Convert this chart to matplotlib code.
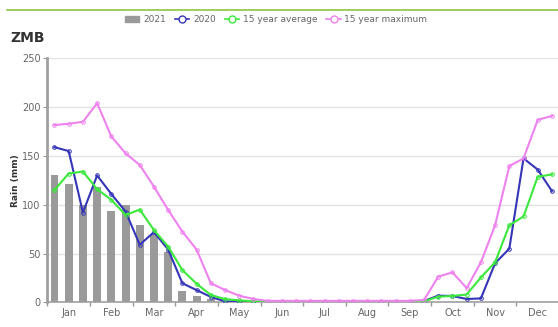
import numpy as np
import matplotlib.pyplot as plt
from matplotlib.lines import Line2D
from matplotlib.patches import Patch

months = ['Jan', 'Feb', 'Mar', 'Apr', 'May', 'Jun', 'Jul', 'Aug', 'Sep', 'Oct', 'Nov', 'Dec']

# dekadal rainfall (mm), 36 dekads
rain_2021 = [130, 121, 100, 118, 94, 100, 79, 70, 52, 12, 6.5, 3]
rain_2020 = [159, 155, 92, 130, 111, 93, 59, 72, 54, 19.5, 12.5, 5.5,
             1, 0.5, 0.5, 0.5, 0.5, 0.5, 0.5, 0.5, 0.5, 0.5, 0.5, 0.5,
             0.5, 0.5, 1.4, 6.8, 6.5, 3.4, 4, 40, 55, 147.5, 136, 114]
avg_15yr = [115, 132, 134, 116, 105, 89.5, 95, 74, 57, 33, 19, 7.5,
            3.3, 2, 1, 0.8, 0.5, 0.5, 0.5, 0.5, 0.5, 0.5, 0.5, 0.5,
            0.5, 0.5, 1, 5.8, 6.5, 8, 25.5, 41, 79, 88, 128.7, 131]
max_15yr = [181.7, 183, 185, 204, 170, 152.7, 140.7, 118.5, 94.6, 72.4, 54, 19.5,
            12.6, 6.8, 3.4, 1.5, 1.5, 1.5, 1.5, 1.5, 1.5, 1.5, 1.5, 1.5,
            1.5, 1.5, 2.4, 26.3, 30.7, 14.5, 41, 79, 139.6, 147.5, 187, 191]

fig = plt.figure(figsize=(5.58, 3.27), dpi=100)
ax = fig.add_axes([0.0849, 0.0755, 0.917, 0.746])

x = np.arange(36)
ax.bar(x[:len(rain_2021)], rain_2021, width=0.56, color='#9a9a9a', zorder=2)
ax.plot(x, rain_2020, color='#3535b8', lw=1.5, marker='o', ms=2.6, mfc='none', mew=0.7, zorder=3)
ax.plot(x, avg_15yr, color='#3be83b', lw=1.5, marker='o', ms=2.6, mfc='none', mew=0.7, zorder=3)
ax.plot(x, max_15yr, color='#ee82ee', lw=1.5, marker='o', ms=2.6, mfc='none', mew=0.7, zorder=3)

ax.set_xlim(-0.5, 35.5)
ax.set_ylim(0, 250)
ax.set_yticks(range(0, 251, 50))
ax.yaxis.grid(True, color='#e2e2e2', lw=1)
ax.set_axisbelow(True)

ax.set_xticks(np.arange(-0.5, 36, 3))
ax.set_xticklabels([])
ax.set_xticks(np.arange(1, 36, 3), minor=True)
ax.set_xticklabels(months, minor=True)
ax.tick_params(axis='x', which='major', length=3, color='#999999', width=1)
ax.tick_params(axis='x', which='minor', length=0, labelsize=7, labelcolor='#666666', pad=4)
ax.tick_params(axis='y', length=3, color='#999999', labelsize=7, labelcolor='#666666', pad=2)

for s in ['top', 'right']:
    ax.spines[s].set_visible(False)
ax.spines['left'].set_color('#a0a0a0')
ax.spines['left'].set_linewidth(2)
ax.spines['bottom'].set_color('#a0a0a0')
ax.spines['bottom'].set_linewidth(1.2)

ax.set_ylabel('Rain (mm)', fontsize=6.5, fontweight='bold', color='#333333', labelpad=1)

fig.text(0.018, 0.885, 'ZMB', fontsize=10, fontweight='bold', color='#333333', va='center')
fig.add_artist(Line2D([0.012, 1.0], [0.968, 0.968], color='#8cc63f', lw=1.2))

handles = [
    Patch(color='#9a9a9a', label='2021'),
    Line2D([], [], color='#3535b8', marker='o', ms=5, mfc='white', lw=1.2, label='2020'),
    Line2D([], [], color='#3be83b', marker='o', ms=5, mfc='white', lw=1.2, label='15 year average'),
    Line2D([], [], color='#ee82ee', marker='o', ms=5, mfc='white', lw=1.2, label='15 year maximum'),
]
fig.legend(handles=handles, loc='center', bbox_to_anchor=(0.495, 0.94), ncol=4, frameon=False,
           fontsize=6.5, handlelength=1.6, handletextpad=0.4, columnspacing=1.0,
           labelcolor='#666666')

fig.savefig('out.png', dpi=100)
